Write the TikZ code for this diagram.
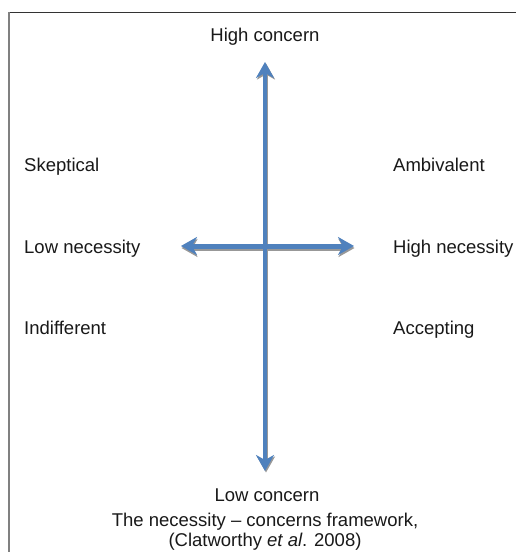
\documentclass[tikz,border=0pt]{standalone}
\usepackage{fontspec}
\setmainfont{Liberation Sans}
\usetikzlibrary{arrows.meta}
\definecolor{arrowblue}{HTML}{4F81BD}
\definecolor{shadowgray}{HTML}{7F7F7F}
\tikzset{
  lbl/.style={font=\fontsize{18.5}{20}\selectfont, inner sep=0pt, text=black!90},
  axis/.style={arrowblue, line width=#1, {Stealth[length=16pt,width=18pt,inset=5pt]}-{Stealth[length=16pt,width=18pt,inset=5pt]}},
  axisshadow/.style={shadowgray!80, line width=#1, {Stealth[length=16pt,width=18pt,inset=5pt]}-{Stealth[length=16pt,width=18pt,inset=5pt]}},
}
\begin{document}
\begin{tikzpicture}[x=1pt,y=-1pt]
\useasboundingbox (0,0) rectangle (516,552);
\fill[white] (0,0) rectangle (516,552);
% frame
\draw[line width=1.3pt, black!80] (8,12.5) -- (516,12.5);
\draw[line width=2pt, black!50] (8.5,12) -- (8.5,552);
% axis end points
\coordinate (top) at (265,62);
\coordinate (bot) at (265,471);
\coordinate (lft) at (181,246);
\coordinate (rgt) at (354,246);
% shadows
\draw[axisshadow=4pt, transform canvas={xshift=1pt,yshift=-1.5pt}] (top) -- (bot);
\draw[axisshadow=5pt, transform canvas={xshift=0.5pt,yshift=-2pt}] (lft) -- (rgt);
% axes
\draw[axis=4pt] (top) -- (bot);
\draw[axis=5pt] (lft) -- (rgt);
% labels
\node[lbl, anchor=base] (hc) at (265,41) {High concern};
\node[lbl, anchor=base] (lc) at (267,501) {Low concern};
\node[lbl, anchor=base west] (sk) at (24,171) {Skeptical};
\node[lbl, anchor=base west] (ln) at (24,253) {Low necessity};
\node[lbl, anchor=base west] (in) at (24,334) {Indifferent};
\node[lbl, anchor=base west] (am) at (393,171) {Ambivalent};
\node[lbl, anchor=base west] (hn) at (393,253) {High necessity};
\node[lbl, anchor=base west] (ac) at (393,334) {Accepting};
\node[lbl, anchor=base, align=center] (cap) at (265,546) {The necessity -- concerns framework,\\(Clatworthy \textit{et al}. 2008)};
\end{tikzpicture}
\end{document}
